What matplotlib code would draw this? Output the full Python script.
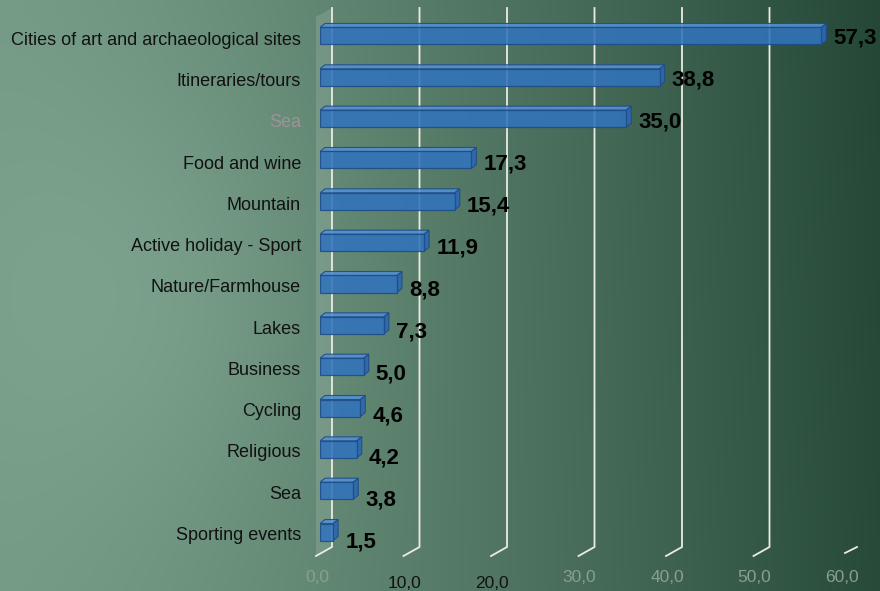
import numpy as np
import matplotlib
matplotlib.use("Agg")
import matplotlib.pyplot as plt
from matplotlib.patches import Polygon

plt.rcParams['font.family'] = ['Liberation Sans', 'DejaVu Sans']

# data
categories = ["Cities of art and archaeological sites", "Itineraries/tours", "Sea",
              "Food and wine", "Mountain", "Active holiday - Sport", "Nature/Farmhouse",
              "Lakes", "Business", "Cycling", "Religious", "Sea", "Sporting events"]
values = [57.3, 38.8, 35.0, 17.3, 15.4, 11.9, 8.8, 7.3, 5.0, 4.6, 4.2, 3.8, 1.5]
ticks = [0, 10, 20, 30, 40, 50, 60]
tick_labels = ["0,0", "10,0", "20,0", "30,0", "40,0", "50,0", "60,0"]

W, H = 880, 591
fig = plt.figure(figsize=(W / 100, H / 100), dpi=100)

# background gradient
bg = fig.add_axes([0, 0, 1, 1], zorder=-10)
bg.axis('off')
xx, yy = np.meshgrid(np.linspace(0, 1, 300), np.linspace(0, 1, 200))
left = np.array([0x74, 0x9a, 0x85]) / 255
right = np.array([0x27, 0x4a, 0x39]) / 255
t = np.clip(xx ** 1.35, 0, 1)
glow = 0.05 * np.exp(-((xx - 0.18) ** 2 / 0.05 + (yy - 0.5) ** 2 / 0.15))
img = left[None, None, :] * (1 - t[..., None]) + right[None, None, :] * t[..., None]
img = np.clip(img + glow[..., None] - 0.012 * (1 - yy[..., None]) * xx[..., None], 0, 1)
bg.imshow(img, aspect='auto', extent=[0, 1, 0, 1])

# plot area: x=0 at px 320, 8.75 px per unit; rows 41.33 px apart, first at px 36
XU = 8.75
YU = 41.33
ax = fig.add_axes([320 / W, 1 - 552.7 / H, 525 / W, 537.4 / H])
ax.set_xlim(0, 60)
ax.set_ylim(len(values) - 0.5, -0.5)
ax.axis('off')

n = len(values)
top_y = -0.5 - (15.3 - 8) / YU
back_bot = n - 0.5 - (552.7 - 547) / YU
front_bot = n - 0.5 + (556 - 552.7) / YU
gx_back = 12 / XU
gx_front = -4 / XU

# left wall
wall = Polygon([(gx_front, front_bot), (gx_back, back_bot), (gx_back, top_y),
                (gx_front, top_y + 9 / YU)], closed=True, facecolor='white',
               alpha=0.13, edgecolor='none', clip_on=False, zorder=1)
ax.add_patch(wall)

# gridlines
for tk in ticks:
    if tk < 60:
        ax.plot([tk + gx_back, tk + gx_back, tk + gx_front], [top_y, back_bot, front_bot],
                color='#ecebe2', lw=1.3, clip_on=False, zorder=2, solid_joinstyle='miter')
    else:
        ax.plot([tk + gx_back, tk + gx_front + 4 / XU], [back_bot, front_bot - 3 / YU],
                color='#ecebe2', lw=1.3, clip_on=False, zorder=2)

# 3D bars
bh = 17 / YU
ddx = 5 / XU
ddy = 4 / YU
for i, v in enumerate(values):
    y0 = i - bh / 2
    y1 = i + bh / 2
    top = Polygon([(0, y0), (v, y0), (v + ddx, y0 - ddy), (ddx, y0 - ddy)], closed=True,
                  facecolor='#5590d0', edgecolor='#1d4c8a', lw=0.8, alpha=0.9, zorder=3)
    side = Polygon([(v, y0), (v + ddx, y0 - ddy), (v + ddx, y1 - ddy), (v, y1)], closed=True,
                   facecolor='#2c68ae', edgecolor='#1d4c8a', lw=0.8, alpha=0.9, zorder=3)
    ax.add_patch(top)
    ax.add_patch(side)
ax.barh(range(n), values, height=bh, color='#3273bc', edgecolor='#1d4c8a',
        linewidth=0.9, alpha=0.88, zorder=4)

# value labels
for i, v in enumerate(values):
    ax.annotate(f"{v:.1f}".replace('.', ','), xy=(v, i), xycoords='data',
                xytext=(12, -2 - i * 0.7), textcoords='offset pixels',
                ha='left', va='center', fontsize=16, fontweight='bold', color='black')

# category labels
for i, c in enumerate(categories):
    col = '#9d9397' if i == 2 else '#111111'
    ax.annotate(c, xy=(0, i), xycoords='data', xytext=(-19, -4.5 + i * 0.1),
                textcoords='offset pixels', ha='right', va='center', fontsize=13, color=col)

# x tick labels
for tk, lab in zip(ticks, tick_labels):
    faded = tk not in (10, 20)
    ax.annotate(lab, xy=(tk, front_bot), xycoords='data',
                xytext=(-3, -21 if faded else -27), textcoords='offset pixels',
                ha='center', va='center', fontsize=12.5,
                color='#8a9f90' if faded else '#111111', annotation_clip=False)

fig.savefig("out.png", dpi=100)
